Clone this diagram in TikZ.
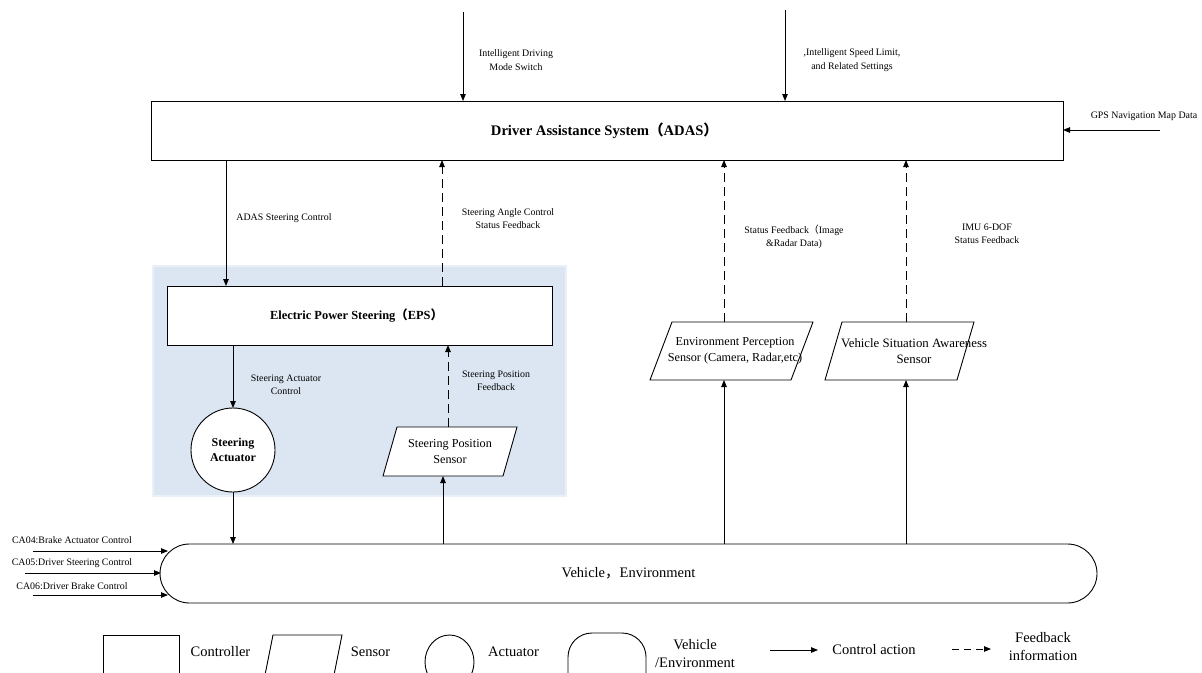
\documentclass[tikz,border=0pt]{standalone}
\usepackage{fontspec}
\setmainfont{Liberation Serif}
\newfontfamily\cjk{Noto Sans CJK SC}
\usetikzlibrary{arrows.meta,calc}
\definecolor{regionfill}{RGB}{220,230,242}
\definecolor{regionedge}{RGB}{234,240,248}
\begin{document}
\begin{tikzpicture}[x=1pt,y=-1pt,
  every node/.style={inner sep=0pt, outer sep=0pt},
  boxnode/.style={draw, line width=0.9pt, fill=white},
  sensortext/.style={align=center, font=\fontsize{12.2}{15.5}\selectfont},
  para/.style={draw, line width=0.9pt, fill=white},
  ctrl/.style={line width=0.9pt, -{Triangle[length=7pt,width=5.5pt]}},
  fb/.style={ctrl, dash pattern=on 9pt off 5pt},
  lbl/.style={align=center, font=\fontsize{9.9}{13.5}\selectfont},
  leg/.style={align=center, font=\fontsize{14.5}{18}\selectfont},
  legshape/.style={draw, line width=0.9pt}
]
\useasboundingbox (0,0) rectangle (1202,672);

% ADAS
\node[boxnode, minimum width=912pt, minimum height=59pt] (adas) at (607,130.5) {};
\node[font=\bfseries\fontsize{14.6}{16}\selectfont] (adastext) at (604.5,131) {Driver Assistance System{\cjk （}ADAS{\cjk ）}};

% blue region
\node[fill=regionfill, draw=regionedge, line width=2pt, minimum width=413pt, minimum height=230pt] (region) at (359,380.5) {};

% EPS
\node[boxnode, minimum width=385pt, minimum height=59pt] (eps) at (359.5,315.5) {};
\node[font=\bfseries\fontsize{12.4}{15}\selectfont] (epstext) at (356.5,316) {Electric Power Steering{\cjk （}EPS{\cjk ）}};

% actuator
\node[boxnode, circle, minimum size=84pt, align=center, font=\bfseries\fontsize{12}{15}\selectfont] (act) at (233,450) {Steering\\Actuator};

% sensors
\node[sensortext, minimum width=134pt, minimum height=49pt] (sps) at (450,451.5) {};
\draw[para] (sps.south west) -- ($(sps.north west)+(14,0)$) -- (sps.north east) -- ($(sps.south east)+(-14,0)$) -- cycle;
\node[sensortext] (spstext) at (450,451.5) {Steering Position\\Sensor};

\node[sensortext, minimum width=163pt, minimum height=58pt] (env) at (731.5,351) {};
\draw[para] (env.south west) -- ($(env.north west)+(22,0)$) -- (env.north east) -- ($(env.south east)+(-22,0)$) -- cycle;
\node[sensortext] (envtext) at (735,351) {Environment Perception\\Sensor (Camera, Radar,etc)};

\node[sensortext, minimum width=149pt, minimum height=58pt] (vsa) at (899.5,351) {};
\draw[para] (vsa.south west) -- ($(vsa.north west)+(17,0)$) -- (vsa.north east) -- ($(vsa.south east)+(-17,0)$) -- cycle;
\node[sensortext, font=\fontsize{12.8}{15.5}\selectfont] (vsatext) at (914,351) {Vehicle Situation Awareness\\Sensor};

% vehicle
\node[boxnode, rounded corners=29.5pt, minimum width=937pt, minimum height=59pt, font=\fontsize{14.5}{16}\selectfont] (veh) at (628.5,573.5) {Vehicle{\cjk ，}Environment};

% helper coordinates
\coordinate (in1) at (463,12);
\coordinate (in2) at (785,10);
\coordinate (gps) at (1160,130);
\coordinate (xa) at (226,0);
\coordinate (xe) at (442,0);
\coordinate (xs1) at (443,0);
\coordinate (xs2) at (448,0);
\coordinate (xv1) at (724,0);
\coordinate (xv2) at (906,0);
\coordinate (ca4s) at (33,551);
\coordinate (ca4e) at (168,551);
\coordinate (ca5s) at (25,573);
\coordinate (ca5e) at (161,573);
\coordinate (ca6s) at (33,595);
\coordinate (ca6e) at (168,595);

% connectors
\draw[ctrl] (in1) -- (in1 |- adas.north);
\draw[ctrl] (in2) -- (in2 |- adas.north);
\draw[ctrl] (gps) -- (gps -| adas.east);
\draw[ctrl] (xa |- adas.south) -- (xa |- eps.north);
\draw[fb] (xe |- eps.north) -- (xe |- adas.south);
\draw[ctrl] (act |- eps.south) -- (act.north);
\draw[ctrl] (act.south) -- (act |- veh.north);
\draw[ctrl] (xs1 |- veh.north) -- (xs1 |- sps.south);
\draw[fb] (xs2 |- sps.north) -- (xs2 |- eps.south);
\draw[ctrl] (xv1 |- veh.north) -- (xv1 |- env.south);
\draw[fb] (xv1 |- env.north) -- (xv1 |- adas.south);
\draw[ctrl] (xv2 |- veh.north) -- (xv2 |- vsa.south);
\draw[fb] (xv2 |- vsa.north) -- (xv2 |- adas.south);
\draw[ctrl] (ca4s) -- (ca4e);
\draw[ctrl] (ca5s) -- (ca5e);
\draw[ctrl] (ca6s) -- (ca6e);

% labels
\node[lbl] (l1) at (516,60) {Intelligent Driving\\Mode Switch};
\node[lbl] (l2) at (852,60) {,Intelligent Speed Limit,\\and Related Settings};
\node[lbl] (l3) at (1144,116) {GPS Navigation Map Data};
\node[lbl] (l4) at (284,218) {ADAS Steering Control};
\node[lbl] (l5) at (508,218.5) {Steering Angle Control\\Status Feedback};
\node[lbl] (l6) at (794,237) {Status Feedback{\cjk （}Image\\\&Radar Data)};
\node[lbl] (l7) at (987,234) {IMU 6-DOF\\Status Feedback};
\node[lbl] (l8) at (286,385) {Steering Actuator\\Control};
\node[lbl] (l9) at (496,381) {Steering Position\\Feedback};
\node[lbl] (l10) at (72,540) {CA04:Brake Actuator Control};
\node[lbl] (l11) at (72,563) {CA05:Driver Steering Control};
\node[lbl] (l12) at (72,586) {CA06:Driver Brake Control};

% legend
\begin{scope}
\clip (0,600) rectangle (1202,672);
\draw[legshape] (103,635) rectangle (179,690);
\draw[legshape] (273,635) -- (342,635) -- (331,690) -- (262,690) -- cycle;
\draw[legshape] (449.5,662) ellipse [x radius=24.5, y radius=27];
\draw[legshape, rounded corners=24pt] (568,633) rectangle (646,700);
\end{scope}
\node[leg] (lg1) at (220.5,652) {Controller};
\node[leg] (lg2) at (370.5,652) {Sensor};
\node[leg] (lg3) at (513.5,652) {Actuator};
\node[leg] (lg4) at (695,654) {Vehicle\\/Environment};
\coordinate (la1) at (770,650);
\coordinate (la2) at (818,650);
\draw[ctrl] (la1) -- (la2);
\node[leg] (lg5) at (874,650) {Control action};
\coordinate (lb1) at (952,649);
\coordinate (lb2) at (991,649);
\draw[fb, dash pattern=on 7pt off 5pt] (lb1) -- (lb2);
\node[leg] (lg6) at (1043,646.5) {Feedback\\information};
\end{tikzpicture}
\end{document}
